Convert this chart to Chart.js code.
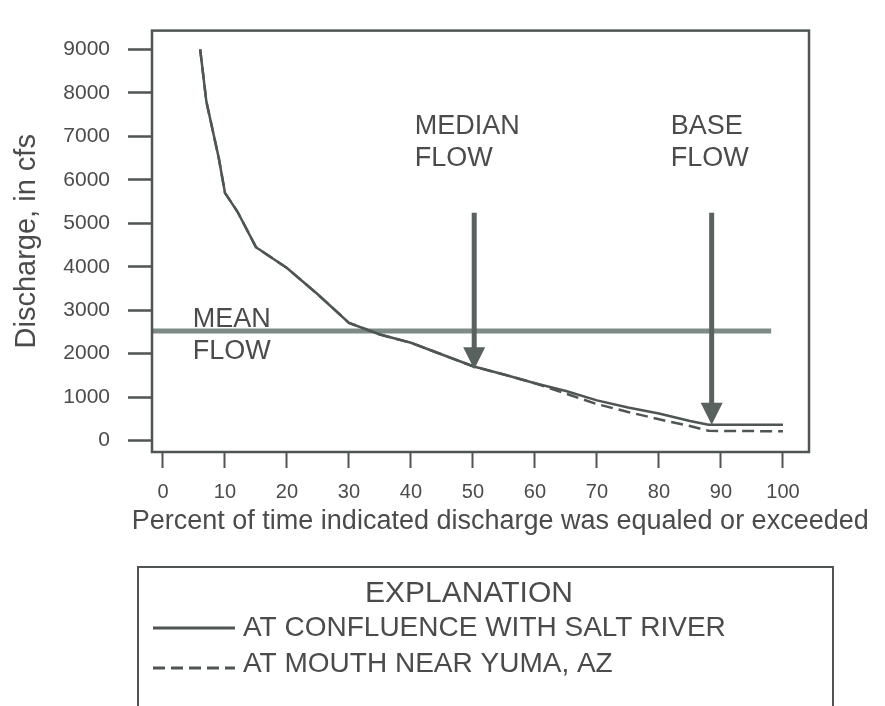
<!DOCTYPE html>
<html>
<head>
<meta charset="utf-8">
<script src="https://cdn.jsdelivr.net/npm/chart.js@4/dist/chart.umd.min.js"></script>
<style>
  html, body { margin: 0; background: #fff; }
  #wrap { width: 885px; height: 706px; }
</style>
</head>
<body>
<div id="wrap"><canvas id="flowChart"></canvas></div>
<script>
// flow-duration curves
const percentExceeded = [6, 7, 8, 9, 10, 12, 15, 20, 25, 30, 35, 40, 45, 50, 55, 60, 65, 70, 75, 80, 85, 88, 100]
const confluenceCfs = [9000, 7800, 7150, 6500, 5700, 5270, 4450, 3970, 3360, 2710, 2440, 2250, 1980, 1710, 1520, 1320, 1140, 925, 760, 625, 450, 365, 365]
const yumaCfs = [9000, 7800, 7150, 6500, 5700, 5270, 4450, 3970, 3360, 2710, 2440, 2250, 1980, 1710, 1520, 1320, 1080, 840, 660, 490, 335, 225, 215]
const seriesNames = ['AT CONFLUENCE WITH SALT RIVER', 'AT MOUTH NEAR YUMA, AZ']

const meanFlowCfs = 2520
const meanFlowSpan = [-1.8, 98.1]

// median and base flow arrows
const arrowPercents = [50.2, 88.5]
const arrowTopCfs = 5240
const arrowTipCfs = [1640, 365]

const xTicks = [0, 10, 20, 30, 40, 50, 60, 70, 80, 90, 100]
const yTicks = [0, 1000, 2000, 3000, 4000, 5000, 6000, 7000, 8000, 9000]

const notes = [
  { lines: ['MEDIAN', 'FLOW'], x: 40.6, y: 7050 },
  { lines: ['BASE', 'FLOW'], x: 81.9, y: 7050 },
  { lines: ['MEAN', 'FLOW'], x: 4.8, y: 2620 },
]

const FONT = "'Liberation Sans', Arial, sans-serif"
const INK = '#4b4b4b'
const LINE = '#4e5552'

const toPoints = (ys) => percentExceeded.map((p, i) => ({ x: p, y: ys[i] }))

const annotate = {
  id: 'annotate',
  afterDatasetsDraw(chart) {
    const { ctx, chartArea: a, scales: { x, y } } = chart
    ctx.save()

    // arrows
    ctx.fillStyle = '#59625f'
    ctx.strokeStyle = '#59625f'
    arrowPercents.forEach((p, i) => {
      const px = x.getPixelForValue(p)
      const top = y.getPixelForValue(arrowTopCfs)
      const tip = y.getPixelForValue(arrowTipCfs[i])
      ctx.lineWidth = 5
      ctx.beginPath()
      ctx.moveTo(px, top)
      ctx.lineTo(px, tip - 18)
      ctx.stroke()
      ctx.beginPath()
      ctx.moveTo(px - 11, tip - 22)
      ctx.lineTo(px + 11, tip - 22)
      ctx.lineTo(px, tip)
      ctx.closePath()
      ctx.fill()
    })

    // text labels in the plot
    ctx.fillStyle = INK
    ctx.font = `27px ${FONT}`
    ctx.textAlign = 'left'
    ctx.textBaseline = 'alphabetic'
    notes.forEach(n => {
      const px = x.getPixelForValue(n.x)
      const py = y.getPixelForValue(n.y)
      n.lines.forEach((t, k) => ctx.fillText(t, px, py + k * 32))
    })

    // plot frame
    ctx.strokeStyle = LINE
    ctx.lineWidth = 2.5
    ctx.strokeRect(a.left, a.top, a.right - a.left, a.bottom - a.top)
    ctx.restore()
  },
  afterDraw(chart) {
    const { ctx, scales: { x } } = chart
    ctx.save()
    ctx.fillStyle = INK

    // x axis title
    ctx.font = `27px ${FONT}`
    ctx.textAlign = 'center'
    ctx.textBaseline = 'alphabetic'
    ctx.fillText('Percent of time indicated discharge was equaled or exceeded', x.getPixelForValue(54.4), x.bottom + 17)

    // explanation box
    ctx.strokeStyle = LINE
    ctx.lineWidth = 2
    ctx.strokeRect(138, 567, 695, 200)
    ctx.font = `30px ${FONT}`
    ctx.textBaseline = 'middle'
    ctx.fillText('EXPLANATION', 469, 594)

    ctx.font = `28px ${FONT}`
    ctx.textAlign = 'left'
    const rows = chart.data.datasets.filter(d => seriesNames.includes(d.label))
    rows.forEach((d, i) => {
      const ly = 628 + i * 36
      ctx.strokeStyle = d.borderColor
      ctx.lineWidth = 3
      ctx.setLineDash(d.borderDash || [])
      ctx.beginPath()
      ctx.moveTo(153, ly + i * 4)
      ctx.lineTo(235, ly + i * 4)
      ctx.stroke()
      ctx.setLineDash([])
      ctx.fillText(d.label, 243, ly)
    })
    ctx.restore()
  },
}

new Chart(document.getElementById('flowChart'), {
  type: 'line',
  data: {
    datasets: [
      {
        label: seriesNames[0],
        data: toPoints(confluenceCfs),
        borderColor: LINE,
        borderWidth: 2.5,
        pointRadius: 0,
        tension: 0,
      },
      {
        label: seriesNames[1],
        data: toPoints(yumaCfs),
        borderColor: LINE,
        borderWidth: 2.5,
        borderDash: [12, 6],
        pointRadius: 0,
        tension: 0,
      },
      {
        label: 'Mean flow',
        data: meanFlowSpan.map(p => ({ x: p, y: meanFlowCfs })),
        borderColor: '#7e8a86',
        borderWidth: 5,
        pointRadius: 0,
      },
    ],
  },
  options: {
    responsive: true,
    maintainAspectRatio: false,
    animation: false,
    layout: { padding: { left: 0, top: 8, right: 76, bottom: 194 } },
    plugins: {
      legend: { display: false },
      tooltip: { enabled: false },
    },
    scales: {
      x: {
        type: 'linear',
        min: -1.77,
        max: 104.2,
        border: { display: false },
        grid: { drawOnChartArea: false, tickLength: 16, tickWidth: 2, tickColor: LINE },
        ticks: { font: { family: FONT, size: 20 }, color: INK, padding: 12, maxRotation: 0 },
        afterBuildTicks: (s) => { s.ticks = xTicks.map(v => ({ value: v })) },
        afterFit: (s) => { s.height = 60 },
      },
      y: {
        type: 'linear',
        min: -262,
        max: 9432,
        border: { display: false },
        grid: { drawOnChartArea: false, tickLength: 24, tickWidth: 2.5, tickColor: LINE },
        ticks: { font: { family: FONT, size: 21 }, color: INK, padding: 18, callback: (v) => String(v) },
        title: { display: true, text: 'Discharge, in cfs', color: INK, font: { family: FONT, size: 29 }, padding: { top: 10 } },
        afterBuildTicks: (s) => { s.ticks = yTicks.map(v => ({ value: v })) },
        afterFit: (s) => { s.width = 152 },
      },
    },
  },
  plugins: [annotate],
})
</script>
</body>
</html>
